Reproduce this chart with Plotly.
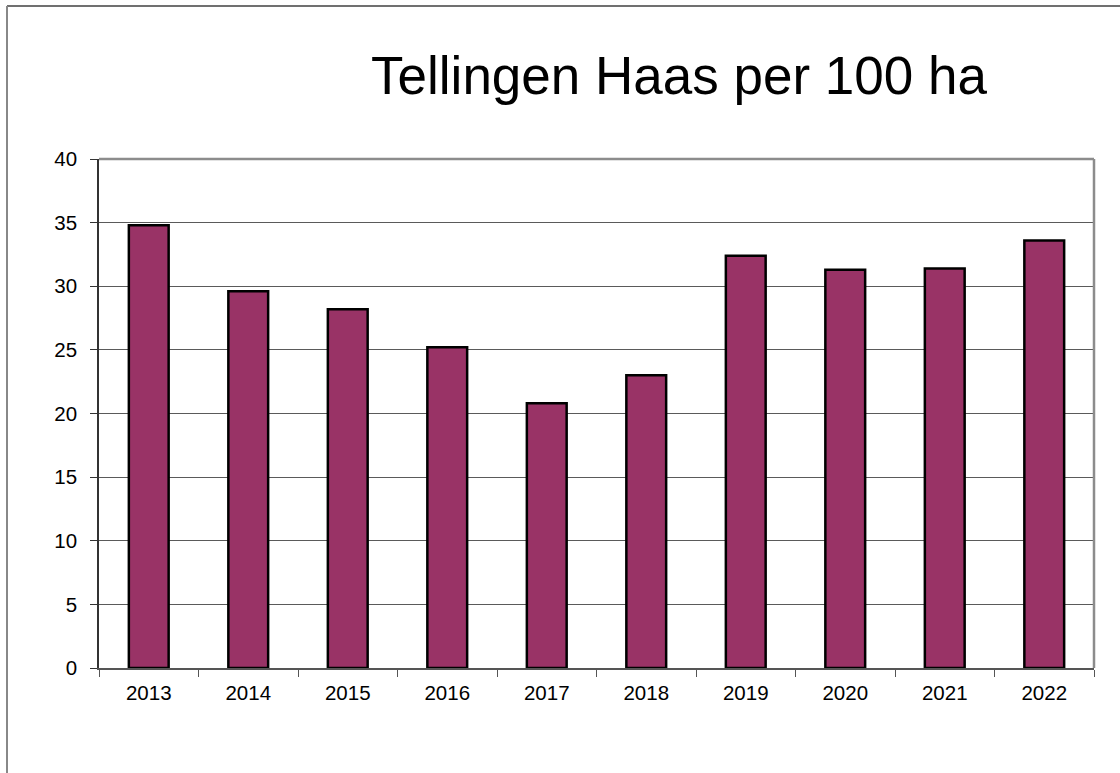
import plotly.graph_objects as go

years = ["2013", "2014", "2015", "2016", "2017", "2018", "2019", "2020", "2021", "2022"]
counts = [34.8, 29.6, 28.2, 25.2, 20.8, 23.0, 32.4, 31.3, 31.4, 33.6]
title_text = "Tellingen Haas per 100 ha"

L, R, T, B = 99, 26, 159, 105
W, H = 1120, 773
pw = W - L - R
ph = H - T - B

def px_x(x):
    return (x - L) / pw

def px_y(y):
    return 1 - (y - T) / ph

fig = go.Figure(go.Bar(
    x=years, y=counts, width=0.4,
    marker=dict(color="#993366", line=dict(color="#000000", width=2.5)),
))

fig.update_layout(
    width=W, height=H,
    margin=dict(l=L, r=R, t=T, b=B),
    paper_bgcolor="white", plot_bgcolor="white",
    showlegend=False,
    font=dict(family="Liberation Sans, Arial, sans-serif", color="#000000", size=21),
    title=dict(text=title_text, x=679 / W, xanchor="center", y=1 - 75 / H, yanchor="middle",
               font=dict(size=53, color="#000000")),
    xaxis=dict(showline=True, linecolor="#555555", linewidth=1.5,
               ticks="outside", tickson="boundaries", ticklen=7, tickcolor="#555555",
               showgrid=False, tickfont=dict(size=20.5), ticklabelstandoff=6),
    yaxis=dict(range=[0, 40], dtick=5, showline=True, linecolor="#333333", linewidth=1.5,
               ticks="outside", ticklen=7, tickcolor="#333333",
               showgrid=True, gridcolor="#5a5a5a", gridwidth=1,
               zeroline=False, tickfont=dict(size=20.5), ticklabelstandoff=9),
    shapes=[
        dict(type="line", xref="paper", yref="paper", x0=0, x1=1, y0=1, y1=1,
             line=dict(color="#8c8c8c", width=2.5)),
        dict(type="line", xref="paper", yref="paper", x0=1, x1=1, y0=0, y1=1,
             line=dict(color="#8c8c8c", width=2.5)),
        dict(type="line", xref="paper", yref="paper", x0=px_x(7), x1=px_x(1130), y0=px_y(6), y1=px_y(6),
             line=dict(color="#404040", width=1.5)),
        dict(type="line", xref="paper", yref="paper", x0=px_x(7), x1=px_x(7), y0=px_y(6), y1=px_y(780),
             line=dict(color="#888888", width=2)),
    ],
)

fig.write_html("out.html", config={"displayModeBar": False},
               post_script="document.body.style.margin='0';document.body.style.overflow='hidden';")
